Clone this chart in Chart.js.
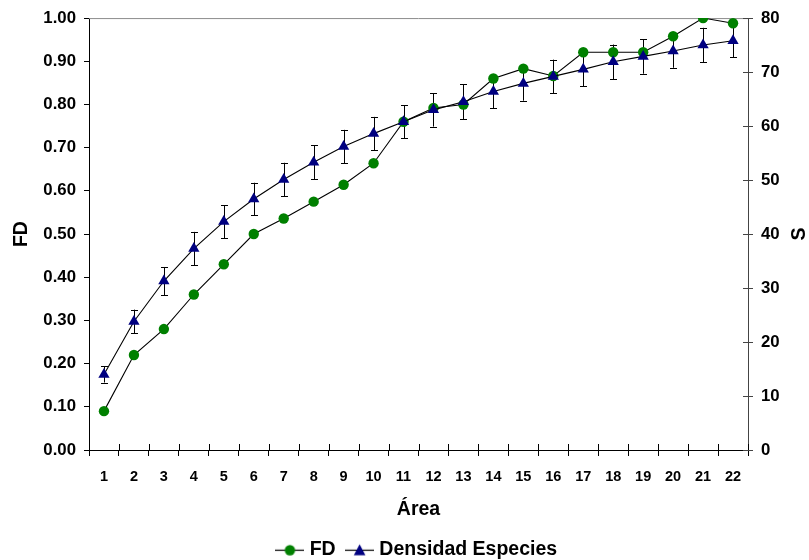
<!DOCTYPE html>
<html>
<head>
<meta charset="utf-8">
<script src="https://cdn.jsdelivr.net/npm/chart.js@4/dist/chart.umd.min.js"></script>
<style>
html,body{margin:0;padding:0;background:#fff;}
#wrap{width:809px;height:560px;position:relative;}
</style>
</head>
<body>
<div id="wrap"><canvas id="c" width="809" height="560"></canvas></div>
<script>
const areas = ['1','2','3','4','5','6','7','8','9','10','11','12','13','14','15','16','17','18','19','20','21','22'];
const fdValues = [0.09,0.22,0.28,0.36,0.43,0.50,0.536,0.575,0.614,0.664,0.760,0.792,0.80,0.86,0.883,0.866,0.921,0.921,0.921,0.958,1.00,0.988];
const densidadValues = [14.0,23.8,31.3,37.3,42.3,46.5,50.1,53.3,56.2,58.6,60.8,63.0,64.5,66.4,67.9,69.2,70.5,71.9,72.9,73.9,75.0,75.8];
const densidadError = [1.5,2.2,2.6,3.1,3.05,3.0,3.1,3.1,3.1,3.1,3.1,3.1,3.2,3.1,3.2,3.1,3.1,3.2,3.2,3.1,3.2,3.1];
const fdTicks = [0,0.1,0.2,0.3,0.4,0.5,0.6,0.7,0.8,0.9,1.0];
const sTicks = [0,10,20,30,40,50,60,70,80];

const FONT = '"Liberation Sans", Arial, sans-serif';
const GREEN = '#008000';
const NAVY = '#000080';

function legendIcon(kind){
  const cv = document.createElement('canvas');
  cv.width = 29; cv.height = 14;
  const c = cv.getContext('2d');
  c.strokeStyle = '#000'; c.lineWidth = 1.2;
  c.beginPath(); c.moveTo(0,7.5); c.lineTo(29,7.5); c.stroke();
  if(kind==='circle'){
    c.fillStyle = GREEN; c.beginPath(); c.arc(14.5,7.5,5.2,0,Math.PI*2); c.fill();
  } else {
    c.fillStyle = NAVY; c.beginPath(); c.moveTo(14.5,1.5); c.lineTo(20.3,12.5); c.lineTo(8.7,12.5); c.closePath(); c.fill();
  }
  return cv;
}
const iconFD = legendIcon('circle');
const iconS = legendIcon('triangle');

const extras = {
  id:'extras',
  beforeDatasetsDraw(chart){
    const ctx = chart.ctx;
    const xs = chart.scales.x, ys = chart.scales.yS;
    const ca = chart.chartArea;
    ctx.save();
    ctx.strokeStyle = '#8c8c8c'; ctx.lineWidth = 1;
    ctx.beginPath(); ctx.moveTo(ca.left, ca.top+0.5); ctx.lineTo(ca.right, ca.top+0.5); ctx.stroke();
    ctx.strokeStyle = '#000';
    const n = areas.length;
    for(let i=1;i<=n;i++){
      const x = Math.round(xs.getPixelForValue(i-0.5))+0.5;
      ctx.beginPath(); ctx.moveTo(x, ca.bottom); ctx.lineTo(x, ca.bottom-6); ctx.stroke();
    }
    ctx.strokeStyle = '#444';
    sTicks.forEach(v=>{
      const y = Math.round(ys.getPixelForValue(v))+0.5;
      ctx.beginPath(); ctx.moveTo(ca.right, y); ctx.lineTo(ca.right-5, y); ctx.stroke();
    });
    ctx.strokeStyle = '#000'; ctx.lineWidth = 1;
    densidadValues.forEach((v,i)=>{
      const x = Math.round(xs.getPixelForValue(i))+0.5;
      const yt = ys.getPixelForValue(v+densidadError[i]);
      const yb = ys.getPixelForValue(v-densidadError[i]);
      ctx.beginPath();
      ctx.moveTo(x,yt); ctx.lineTo(x,yb);
      ctx.moveTo(x-3.5,Math.round(yt)+0.5); ctx.lineTo(x+3.5,Math.round(yt)+0.5);
      ctx.moveTo(x-3.5,Math.round(yb)+0.5); ctx.lineTo(x+3.5,Math.round(yb)+0.5);
      ctx.stroke();
    });
    ctx.restore();
  },
  afterDraw(chart){
    const ctx = chart.ctx;
    ctx.save();
    ctx.fillStyle = '#000';
    ctx.font = 'bold 19.5px ' + FONT;
    ctx.translate(800, (chart.chartArea.top+chart.chartArea.bottom)/2);
    ctx.rotate(-Math.PI/2);
    ctx.textAlign = 'center'; ctx.textBaseline = 'middle';
    ctx.fillText('S', 0, 0);
    ctx.restore();
  }
};

new Chart(document.getElementById('c'), {
  type:'line',
  data:{
    labels: areas,
    datasets:[
      {label:'FD', data: fdValues, yAxisID:'yFD', order:1,
       borderColor:'#000', borderWidth:1.1, tension:0,
       pointStyle:'circle', pointRadius:5.2, pointHoverRadius:5.2,
       pointBackgroundColor:GREEN, pointBorderColor:GREEN, pointBorderWidth:0},
      {label:'Densidad Especies', data: densidadValues, yAxisID:'yS', order:0,
       borderColor:'#000', borderWidth:1.1, tension:0,
       pointStyle:'triangle', pointRadius:6.5, pointHoverRadius:6.5,
       pointBackgroundColor:NAVY, pointBorderColor:NAVY, pointBorderWidth:0}
    ]
  },
  options:{
    responsive:false, animation:false,
    devicePixelRatio:1,
    layout:{padding:{left:0,right:0,top:17,bottom:0}},
    plugins:{
      tooltip:{enabled:false},
      legend:{
        position:'bottom', fullSize:false, maxHeight:34,
        labels:{
          usePointStyle:true, pointStyleWidth:20, padding:14,
          color:'#000', font:{family:FONT, size:19.5, weight:'bold'},
          generateLabels(chart){
            return chart.data.datasets.map((ds,i)=>({
              text: ds.label, pointStyle: i===0?iconFD:iconS,
              fillStyle:'transparent', strokeStyle:'transparent', lineWidth:0,
              hidden:false, datasetIndex:i, fontColor:'#000'
            }));
          }
        }
      }
    },
    scales:{
      x:{
        type:'category', offset:true,
        grid:{offset:true, drawOnChartArea:false, color:'#000', tickLength:6, tickColor:'#000'},
        border:{color:'#000', width:1},
        ticks:{color:'#000', font:{family:FONT,size:14.5,weight:'bold'}, padding:12, maxRotation:0, autoSkip:false},
        title:{display:true, text:'Área', color:'#000', font:{family:FONT,size:19.5,weight:'bold'}, padding:{top:0,bottom:5}},
        afterFit(s){ s.height = 76; }
      },
      yFD:{
        position:'left', min:0, max:1,
        afterBuildTicks(s){ s.ticks = fdTicks.map(v=>({value:v})); },
        grid:{drawOnChartArea:false, color:'#000', tickLength:5, tickColor:'#000'},
        border:{color:'#000', width:1},
        ticks:{color:'#000', font:{family:FONT,size:16.8,weight:'bold'}, padding:8, callback:v=>Number(v).toFixed(2)},
        title:{display:true, text:'FD', color:'#000', font:{family:FONT,size:19.5,weight:'bold'}, padding:{top:10,bottom:0}},
        afterFit(s){ s.width = 89; }
      },
      yS:{
        position:'right', min:0, max:80,
        afterBuildTicks(s){ s.ticks = sTicks.map(v=>({value:v})); },
        grid:{drawOnChartArea:false, color:'#444', tickLength:5, tickColor:'#444'},
        border:{color:'#444', width:1},
        ticks:{color:'#000', font:{family:FONT,size:16.8,weight:'bold'}, padding:8},
        title:{display:false},
        afterFit(s){ s.width = 61; }
      }
    }
  },
  plugins:[extras]
});
</script>
</body>
</html>
